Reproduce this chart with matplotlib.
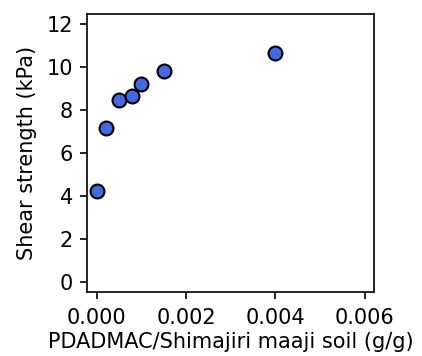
import matplotlib
matplotlib.use("Agg")
import matplotlib.pyplot as plt

dose = [0.0, 0.0002, 0.0005, 0.0008, 0.001, 0.0015, 0.004]
strength = [4.23, 7.18, 8.47, 8.64, 9.19, 9.81, 10.64]

plt.rcParams["font.size"] = 15
plt.rcParams["axes.linewidth"] = 1.2
for a in ("xtick", "ytick"):
    plt.rcParams[a + ".major.size"] = 5.25
    plt.rcParams[a + ".major.width"] = 1.2
plt.rcParams["xtick.major.pad"] = 6.5
plt.rcParams["ytick.major.pad"] = 5

fig = plt.figure(figsize=(4.22, 3.56), dpi=100)
ax = fig.add_axes([0.207, 0.180, 0.679, 0.781])
ax.scatter(dose, strength, s=100, color="royalblue", edgecolor="black", linewidth=1.5, zorder=3)
ax.set_xlim(-0.00021, 0.00621)
ax.set_ylim(-0.47, 12.47)
ax.set_xticks([0, 0.002, 0.004, 0.006])
ax.set_yticks(range(0, 13, 2))
ax.set_xlabel("PDADMAC/Shimajiri maaji soil (g/g)", labelpad=3)
ax.set_ylabel("Shear strength (kPa)", labelpad=7)
fig.savefig("out.png", dpi=100)
